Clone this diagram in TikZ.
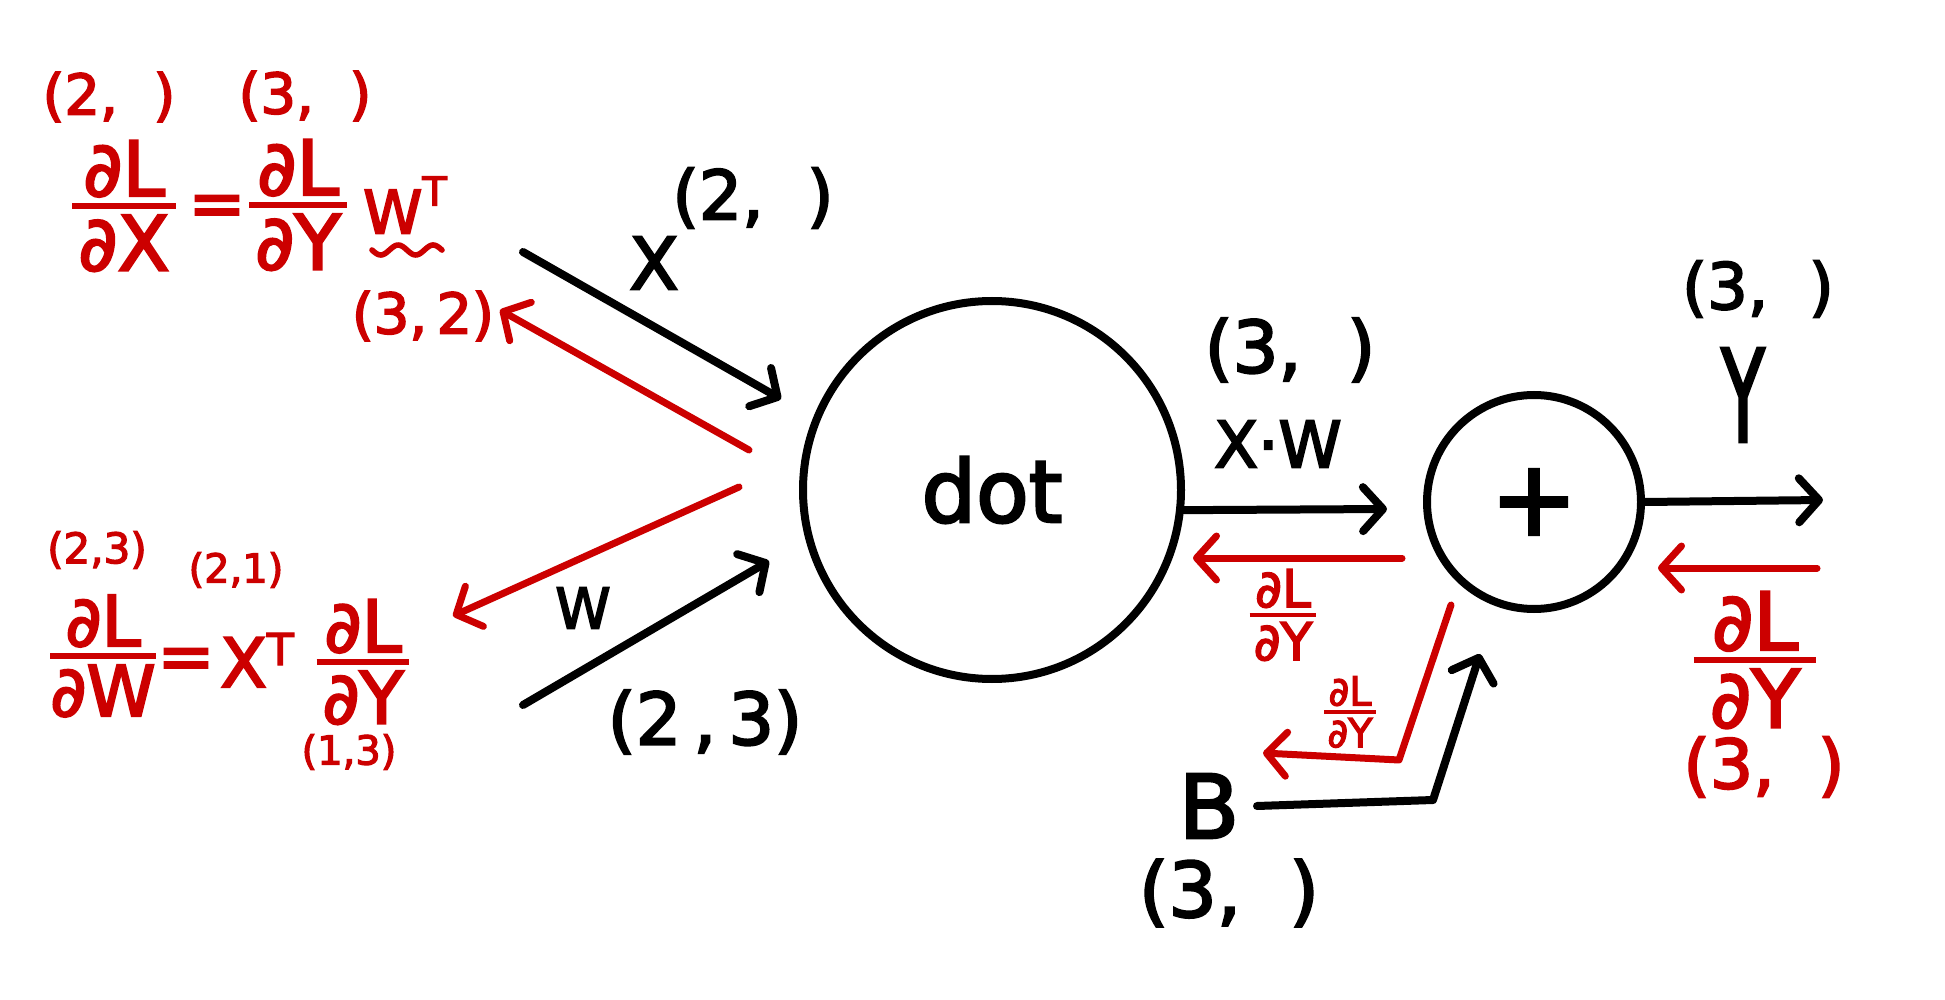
\documentclass[tikz,border=0pt]{standalone}
\usepackage{fontspec}
\usepackage{amsmath}
\setmainfont{DejaVu Sans}[FakeBold=3]
\usetikzlibrary{arrows.meta}
\definecolor{hred}{RGB}{204,0,0}
\newcommand{\fsz}[1]{\fontsize{#1}{#1}\selectfont}
\newcommand{\pfrac}[3]{$\genfrac{}{}{#3}{}{\mbox{\kern0.08em#1\kern0.08em}}{\mbox{\kern0.08em#2\kern0.08em}}$}
\begin{document}
\begin{tikzpicture}[x=0.5pt,y=-0.5pt,
  bk/.style={draw=black, line width=4pt, line cap=round, line join=round},
  rd/.style={draw=hred, line width=3.5pt, line cap=round, line join=round},
  tip/.style={-{Straight Barb[round,length=10pt,width=22pt]}},
  lbl/.style={inner sep=0pt, text=black},
  rlbl/.style={inner sep=0pt, text=hred},
  opnode/.style={circle, draw=black, line width=4pt, inner sep=0pt}]
\fill[white] (0,0) rectangle (1945,1000);
\useasboundingbox (0,0) rectangle (1945,1000);

% operation nodes
\node[opnode, minimum size=189pt, font=\fsz{43}] (dot) at (992,490) {dot};
\node[opnode, minimum size=107pt, font=\fsz{52}] (plus) at (1534,502) {+};

% black labels
\node[lbl, font=\fsz{36}] (lx) at (654,263) {X};
\node[lbl, font=\fsz{34}] (lx2) at (753,198) {(2,~~)};
\node[lbl, font=\fsz{28}] (lw) at (583,608) {W};
\node[lbl, font=\fsz{36}] (lw2) at (705,722) {(2\,,\,3)};
\node[lbl, font=\fsz{36}] (lxw3) at (1290,350) {(3,~~)};
\node[lbl, font=\fsz{32}] (lxw) at (1278,444) {X·W};
\node[lbl, font=\fsz{32}] (ly3) at (1758,289) {(3,~~)};
\node[lbl, font=\fsz{44}] (ly) at (1743,395) {\scalebox{0.8}[1.45]{Y}};
\node[lbl, font=\fsz{44}] (lb) at (1209,806) {B};
\node[lbl, font=\fsz{38}] (lb3) at (1229,893) {(3,~~)};

% red labels
\node[rlbl, font=\fsz{28}] (r2) at (109,97) {(2,~~)};
\node[rlbl, font=\fsz{28}] (r3) at (305,96) {(3,~~)};
\node[rlbl, font=\fsz{38}] (dldx) at (124,206) {\pfrac{∂L}{∂X}{3pt}};
\node[rlbl, font=\fsz{34}] (eq1) at (217,211) {=};
\node[rlbl, font=\fsz{38}] (dldy1) at (298,205) {\pfrac{∂L}{∂Y}{3pt}};
\node[rlbl, font=\fsz{30}] (wt) at (405,205) {W\raisebox{14pt}{\fsz{20}T}};
\node[rlbl, font=\fsz{28}] (r32) at (423,316) {(3,\,2)};
\node[rlbl, font=\fsz{21}] (r23) at (97,550) {(2,3)};
\node[rlbl, font=\fsz{35}] (dldw) at (103,656) {$\genfrac{}{}{3pt}{}{\mbox{∂L}}{\mbox{∂W}}$};
\node[rlbl, font=\fsz{34}] (eq2) at (186,664) {=};
\node[rlbl, font=\fsz{20}] (r21) at (236,570) {(2,1)};
\node[rlbl, font=\fsz{34}] (xt) at (257,660) {X\raisebox{11pt}{\fsz{22}T}};
\node[rlbl, font=\fsz{36}] (dldy2) at (363,662) {\pfrac{∂L}{∂Y}{3pt}};
\node[rlbl, font=\fsz{20}] (r13) at (349,752) {(1,3)};
\node[rlbl, font=\fsz{26}] (dldy3) at (1283,615) {\pfrac{∂L}{∂Y}{2.4pt}};
\node[rlbl, font=\fsz{40}] (dldy4) at (1755,660) {$\genfrac{}{}{3pt}{}{\mbox{\kern0.2em∂L\kern0.2em}}{\mbox{\kern0.2em∂Y\kern0.2em}}$};
\node[rlbl, font=\fsz{34}] (r3b) at (1764,767) {(3,~~)};
\node[rlbl, font=\fsz{20}] (dldy5) at (1350,712) {\pfrac{∂L}{∂Y}{2pt}};

% tilde under W
\draw[rd, line width=2.8pt, domain=0:70, samples=40, smooth]
  plot ({\x+372}, {250+5*sin(\x*10.3)});

% free ends
\coordinate (xs) at (523,252);
\coordinate (xe) at (781,399);
\coordinate (ws) at (523,705);
\coordinate (we) at (769,561);
\coordinate (gxs) at (749,450);
\coordinate (gxe) at (500,310);
\coordinate (gws) at (739,487);
\coordinate (gwe) at (453,616);
\coordinate (me) at (1387,509);
\coordinate (gms) at (1402,558);
\coordinate (gme) at (1193,558);
\coordinate (oe) at (1823,500);
\coordinate (gos) at (1817,568);
\coordinate (goe) at (1658,568);
\coordinate (bs) at (1257,806);
\coordinate (bk1) at (1433,800);
\coordinate (be) at (1480,654);
\coordinate (gbs) at (1451,605);
\coordinate (gbk) at (1399,760);
\coordinate (gbe) at (1263,753);

% black forward connectors
\draw[bk,tip] (xs) -- (xe);
\draw[bk,tip] (ws) -- (we);
\draw[bk,tip] (dot.-6) -- (me);
\draw[bk,tip] (plus.east) -- (oe);
\draw[bk,tip] (bs) -- (bk1) -- (be);

% red backward connectors
\draw[rd,tip] (gxs) -- (gxe);
\draw[rd,tip] (gws) -- (gwe);
\draw[rd,tip] (gms) -- (gme);
\draw[rd,tip] (gos) -- (goe);
\draw[rd,tip] (gbs) -- (gbk) -- (gbe);
\end{tikzpicture}
\end{document}
